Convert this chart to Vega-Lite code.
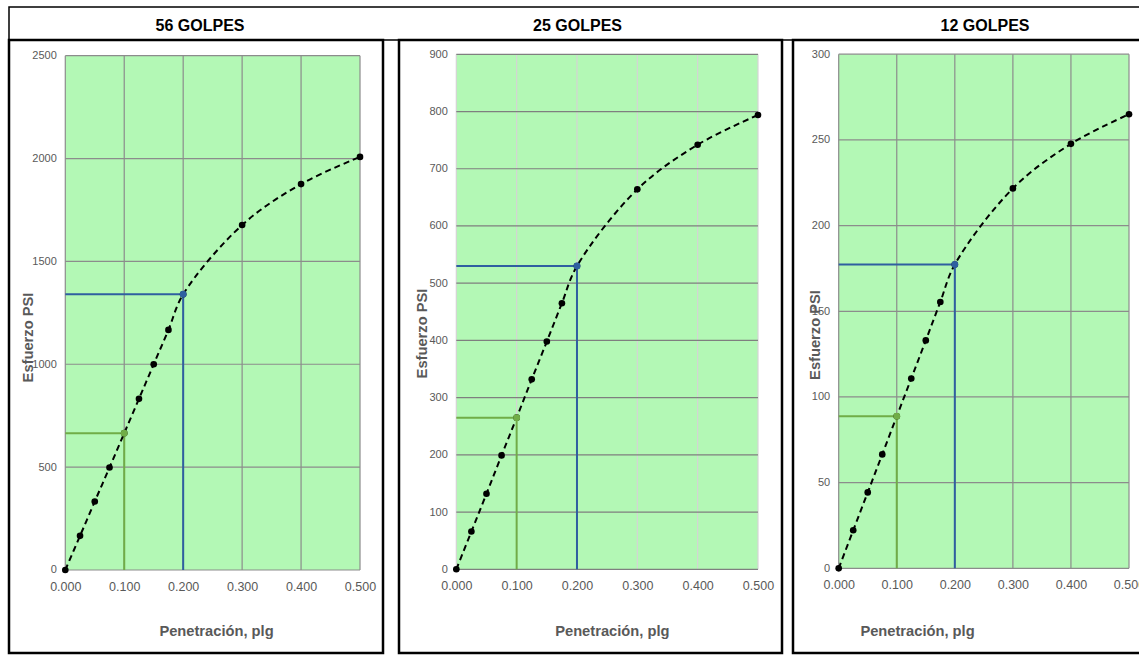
{
 "$schema": "https://vega.github.io/schema/vega-lite/v6.json",
 "padding": {"left": 7, "top": 6, "right": 0, "bottom": 0},
 "background": "white",
 "config": {
  "view": {"stroke": null},
  "axis": {"grid": false, "domain": false, "ticks": false, "tickSize": 0, "labelFont": "Liberation Sans", "labelColor": "#595959", "titleFont": "Liberation Sans", "titleFontSize": 14.7, "titleFontWeight": "bold", "titleColor": "#595959", "labelFlush": false, "labelOverlap": false},
  "axisX": {"labelFontSize": 12.5, "labelPadding": 10, "titleBaseline": "alphabetic", "titleAlign": "center", "titleAngle": 0},
  "axisY": {"labelFontSize": 11, "labelPadding": 9, "titleAngle": 270, "titleBaseline": "middle", "titleAlign": "center"},
  "title": {"font": "Liberation Sans", "fontSize": 16, "fontWeight": "bold", "color": "#000000", "anchor": "middle", "frame": "group", "baseline": "alphabetic", "offset": 6.5}
 },
 "datasets": {
  "curve": [
   {"panel": "56", "x": 0, "y": 0}, {"panel": "56", "x": 0.025, "y": 166}, {"panel": "56", "x": 0.05, "y": 333}, {"panel": "56", "x": 0.075, "y": 498}, {"panel": "56", "x": 0.1, "y": 665}, {"panel": "56", "x": 0.125, "y": 832}, {"panel": "56", "x": 0.15, "y": 1000}, {"panel": "56", "x": 0.175, "y": 1167}, {"panel": "56", "x": 0.2, "y": 1340}, {"panel": "56", "x": 0.3, "y": 1677}, {"panel": "56", "x": 0.4, "y": 1876}, {"panel": "56", "x": 0.5, "y": 2008},
   {"panel": "25", "x": 0, "y": 0}, {"panel": "25", "x": 0.025, "y": 66}, {"panel": "25", "x": 0.05, "y": 132}, {"panel": "25", "x": 0.075, "y": 199}, {"panel": "25", "x": 0.1, "y": 265}, {"panel": "25", "x": 0.125, "y": 332}, {"panel": "25", "x": 0.15, "y": 398}, {"panel": "25", "x": 0.175, "y": 465}, {"panel": "25", "x": 0.2, "y": 530}, {"panel": "25", "x": 0.3, "y": 664}, {"panel": "25", "x": 0.4, "y": 742}, {"panel": "25", "x": 0.5, "y": 794},
   {"panel": "12", "x": 0, "y": 0}, {"panel": "12", "x": 0.025, "y": 22.2}, {"panel": "12", "x": 0.05, "y": 44.3}, {"panel": "12", "x": 0.075, "y": 66.5}, {"panel": "12", "x": 0.1, "y": 88.7}, {"panel": "12", "x": 0.125, "y": 110.8}, {"panel": "12", "x": 0.15, "y": 133}, {"panel": "12", "x": 0.175, "y": 155.4}, {"panel": "12", "x": 0.2, "y": 177.3}, {"panel": "12", "x": 0.3, "y": 221.7}, {"panel": "12", "x": 0.4, "y": 247.7}, {"panel": "12", "x": 0.5, "y": 265}
  ],
  "refs": [
   {"panel": "56", "x0": 0, "y0": 0, "x": 0.1, "y": 665, "ref": "0.1"}, {"panel": "56", "x0": 0, "y0": 0, "x": 0.2, "y": 1340, "ref": "0.2"},
   {"panel": "25", "x0": 0, "y0": 0, "x": 0.1, "y": 265, "ref": "0.1"}, {"panel": "25", "x0": 0, "y0": 0, "x": 0.2, "y": 530, "ref": "0.2"},
   {"panel": "12", "x0": 0, "y0": 0, "x": 0.1, "y": 88.7, "ref": "0.1"}, {"panel": "12", "x0": 0, "y0": 0, "x": 0.2, "y": 177.3, "ref": "0.2"}
  ],
  "frame": [
   {"panel": "56", "xmin": 0, "xmax": 0.5, "ymin": 0, "ymax": 2500},
   {"panel": "25", "xmin": 0, "xmax": 0.5, "ymin": 0, "ymax": 900},
   {"panel": "12", "xmin": 0, "xmax": 0.5, "ymin": 0, "ymax": 300}
  ],
  "grid": [
   {"panel": "56", "axis": "x", "value": 0, "lo": 0, "hi": 2500}, {"panel": "56", "axis": "x", "value": 0.1, "lo": 0, "hi": 2500}, {"panel": "56", "axis": "x", "value": 0.2, "lo": 0, "hi": 2500}, {"panel": "56", "axis": "x", "value": 0.3, "lo": 0, "hi": 2500}, {"panel": "56", "axis": "x", "value": 0.4, "lo": 0, "hi": 2500}, {"panel": "56", "axis": "x", "value": 0.5, "lo": 0, "hi": 2500},
   {"panel": "56", "axis": "y", "value": 0, "lo": 0, "hi": 0.5}, {"panel": "56", "axis": "y", "value": 500, "lo": 0, "hi": 0.5}, {"panel": "56", "axis": "y", "value": 1000, "lo": 0, "hi": 0.5}, {"panel": "56", "axis": "y", "value": 1500, "lo": 0, "hi": 0.5}, {"panel": "56", "axis": "y", "value": 2000, "lo": 0, "hi": 0.5}, {"panel": "56", "axis": "y", "value": 2500, "lo": 0, "hi": 0.5},
   {"panel": "25", "axis": "x", "value": 0, "lo": 0, "hi": 900}, {"panel": "25", "axis": "x", "value": 0.1, "lo": 0, "hi": 900}, {"panel": "25", "axis": "x", "value": 0.2, "lo": 0, "hi": 900}, {"panel": "25", "axis": "x", "value": 0.3, "lo": 0, "hi": 900}, {"panel": "25", "axis": "x", "value": 0.4, "lo": 0, "hi": 900}, {"panel": "25", "axis": "x", "value": 0.5, "lo": 0, "hi": 900},
   {"panel": "25", "axis": "y", "value": 0, "lo": 0, "hi": 0.5}, {"panel": "25", "axis": "y", "value": 100, "lo": 0, "hi": 0.5}, {"panel": "25", "axis": "y", "value": 200, "lo": 0, "hi": 0.5}, {"panel": "25", "axis": "y", "value": 300, "lo": 0, "hi": 0.5}, {"panel": "25", "axis": "y", "value": 400, "lo": 0, "hi": 0.5}, {"panel": "25", "axis": "y", "value": 500, "lo": 0, "hi": 0.5}, {"panel": "25", "axis": "y", "value": 600, "lo": 0, "hi": 0.5}, {"panel": "25", "axis": "y", "value": 700, "lo": 0, "hi": 0.5}, {"panel": "25", "axis": "y", "value": 800, "lo": 0, "hi": 0.5}, {"panel": "25", "axis": "y", "value": 900, "lo": 0, "hi": 0.5},
   {"panel": "12", "axis": "x", "value": 0, "lo": 0, "hi": 300}, {"panel": "12", "axis": "x", "value": 0.1, "lo": 0, "hi": 300}, {"panel": "12", "axis": "x", "value": 0.2, "lo": 0, "hi": 300}, {"panel": "12", "axis": "x", "value": 0.3, "lo": 0, "hi": 300}, {"panel": "12", "axis": "x", "value": 0.4, "lo": 0, "hi": 300}, {"panel": "12", "axis": "x", "value": 0.5, "lo": 0, "hi": 300},
   {"panel": "12", "axis": "y", "value": 0, "lo": 0, "hi": 0.5}, {"panel": "12", "axis": "y", "value": 50, "lo": 0, "hi": 0.5}, {"panel": "12", "axis": "y", "value": 100, "lo": 0, "hi": 0.5}, {"panel": "12", "axis": "y", "value": 150, "lo": 0, "hi": 0.5}, {"panel": "12", "axis": "y", "value": 200, "lo": 0, "hi": 0.5}, {"panel": "12", "axis": "y", "value": 250, "lo": 0, "hi": 0.5}, {"panel": "12", "axis": "y", "value": 300, "lo": 0, "hi": 0.5}
  ]
 },
 "vconcat": [
  {"width": 1134, "height": 33, "view": {"stroke": "#000000", "strokeWidth": 1.5}, "data": {"values": [{"a": 1}]}, "mark": {"type": "point", "opacity": 0}, "encoding": {}},
  {
   "spacing": 16, "bounds": "flush",
   "hconcat": [
    {
     "width": 374, "height": 613,
     "view": {"stroke": "#000000", "strokeWidth": 2.5},
     "title": {"text": "56 GOLPES", "dx": 4},
     "layer": [
      {"data": {"name": "frame"}, "transform": [{"filter": "datum.panel == '56'"}], "mark": {"type": "rect", "color": "#b3f8b5"},
       "encoding": {
        "x": {"field": "xmin", "type": "quantitative", "scale": {"domain": [-0.0955, 0.539], "nice": false, "zero": false}, "axis": {"values": [0, 0.1, 0.2, 0.3, 0.4, 0.5], "format": ".3f", "offset": -83, "title": "Penetración, plg", "titleX": 207, "titleY": 65}},
        "x2": {"field": "xmax"},
        "y": {"field": "ymin", "type": "quantitative", "scale": {"domain": [-403.5, 2576.3], "nice": false, "zero": false}, "axis": {"values": [0, 500, 1000, 1500, 2000, 2500], "format": "d", "offset": -56.3, "title": "Esfuerzo PSI", "titleX": -37.3, "titleY": 297}},
        "y2": {"field": "ymax"}}},
      {"data": {"name": "grid"}, "transform": [{"filter": "datum.panel == '56' && datum.axis == 'x'"}], "mark": {"type": "rule", "color": "#8c8c8c", "strokeWidth": 1.2},
       "encoding": {"x": {"field": "value", "type": "quantitative"}, "y": {"field": "lo", "type": "quantitative"}, "y2": {"field": "hi"}}},
      {"data": {"name": "grid"}, "transform": [{"filter": "datum.panel == '56' && datum.axis == 'y'"}], "mark": {"type": "rule", "color": "#8c8c8c", "strokeWidth": 1.2},
       "encoding": {"y": {"field": "value", "type": "quantitative"}, "x": {"field": "lo", "type": "quantitative"}, "x2": {"field": "hi"}}},
      {"data": {"name": "refs"}, "transform": [{"filter": "datum.panel == '56'"}], "mark": {"type": "rule", "strokeWidth": 2},
       "encoding": {"x": {"field": "x0", "type": "quantitative"}, "x2": {"field": "x"}, "y": {"field": "y", "type": "quantitative"},
        "color": {"field": "ref", "type": "nominal", "scale": {"domain": ["0.1", "0.2"], "range": ["#70ad47", "#2f5fa0"]}, "legend": null}}},
      {"data": {"name": "refs"}, "transform": [{"filter": "datum.panel == '56'"}], "mark": {"type": "rule", "strokeWidth": 2},
       "encoding": {"x": {"field": "x", "type": "quantitative"}, "y": {"field": "y0", "type": "quantitative"}, "y2": {"field": "y"},
        "color": {"field": "ref", "type": "nominal", "legend": null}}},
      {"data": {"name": "curve"}, "transform": [{"filter": "datum.panel == '56'"}], "mark": {"type": "line", "color": "#000000", "strokeWidth": 2, "strokeDash": [6, 4], "interpolate": "catmull-rom"},
       "encoding": {"x": {"field": "x", "type": "quantitative"}, "y": {"field": "y", "type": "quantitative"}}},
      {"data": {"name": "curve"}, "transform": [{"filter": "datum.panel == '56'"}], "mark": {"type": "point", "filled": true, "color": "#000000", "size": 44, "opacity": 1},
       "encoding": {"x": {"field": "x", "type": "quantitative"}, "y": {"field": "y", "type": "quantitative"}}},
      {"data": {"name": "refs"}, "transform": [{"filter": "datum.panel == '56'"}], "mark": {"type": "point", "filled": true, "size": 48, "opacity": 1},
       "encoding": {"x": {"field": "x", "type": "quantitative"}, "y": {"field": "y", "type": "quantitative"},
        "color": {"field": "ref", "type": "nominal", "legend": null}}}
     ]
    },
    {
     "spacing": 11, "bounds": "flush",
     "hconcat": [
      {
       "width": 383, "height": 613,
       "view": {"stroke": "#000000", "strokeWidth": 2.5},
       "title": {"text": "25 GOLPES", "dx": -13},
       "layer": [
        {"data": {"name": "frame"}, "transform": [{"filter": "datum.panel == '25'"}], "mark": {"type": "rect", "color": "#b3f8b5"},
         "encoding": {
          "x": {"field": "xmin", "type": "quantitative", "scale": {"domain": [-0.095, 0.5398], "nice": false, "zero": false}, "axis": {"values": [0, 0.1, 0.2, 0.3, 0.4, 0.5], "format": ".3f", "offset": -83.7, "title": "Penetración, plg", "titleX": 212.8, "titleY": 65.7}},
          "x2": {"field": "xmax"},
          "y": {"field": "ymin", "type": "quantitative", "scale": {"domain": [-146.3, 925], "nice": false, "zero": false}, "axis": {"values": [0, 100, 200, 300, 400, 500, 600, 700, 800, 900], "format": "d", "offset": -57.3, "title": "Esfuerzo PSI", "titleX": -34.3, "titleY": 293}},
          "y2": {"field": "ymax"}}},
        {"data": {"name": "grid"}, "transform": [{"filter": "datum.panel == '25' && datum.axis == 'x'"}], "mark": {"type": "rule", "color": "#d4d4d4", "strokeWidth": 1.2},
         "encoding": {"x": {"field": "value", "type": "quantitative"}, "y": {"field": "lo", "type": "quantitative"}, "y2": {"field": "hi"}}},
        {"data": {"name": "grid"}, "transform": [{"filter": "datum.panel == '25' && datum.axis == 'y'"}], "mark": {"type": "rule", "color": "#7f7f7f", "strokeWidth": 1.2},
         "encoding": {"y": {"field": "value", "type": "quantitative"}, "x": {"field": "lo", "type": "quantitative"}, "x2": {"field": "hi"}}},
        {"data": {"name": "refs"}, "transform": [{"filter": "datum.panel == '25'"}], "mark": {"type": "rule", "strokeWidth": 2},
         "encoding": {"x": {"field": "x0", "type": "quantitative"}, "x2": {"field": "x"}, "y": {"field": "y", "type": "quantitative"},
          "color": {"field": "ref", "type": "nominal", "legend": null}}},
        {"data": {"name": "refs"}, "transform": [{"filter": "datum.panel == '25'"}], "mark": {"type": "rule", "strokeWidth": 2},
         "encoding": {"x": {"field": "x", "type": "quantitative"}, "y": {"field": "y0", "type": "quantitative"}, "y2": {"field": "y"},
          "color": {"field": "ref", "type": "nominal", "legend": null}}},
        {"data": {"name": "curve"}, "transform": [{"filter": "datum.panel == '25'"}], "mark": {"type": "line", "color": "#000000", "strokeWidth": 2, "strokeDash": [6, 4], "interpolate": "catmull-rom"},
         "encoding": {"x": {"field": "x", "type": "quantitative"}, "y": {"field": "y", "type": "quantitative"}}},
        {"data": {"name": "curve"}, "transform": [{"filter": "datum.panel == '25'"}], "mark": {"type": "point", "filled": true, "color": "#000000", "size": 44, "opacity": 1},
         "encoding": {"x": {"field": "x", "type": "quantitative"}, "y": {"field": "y", "type": "quantitative"}}},
        {"data": {"name": "refs"}, "transform": [{"filter": "datum.panel == '25'"}], "mark": {"type": "point", "filled": true, "size": 48, "opacity": 1},
         "encoding": {"x": {"field": "x", "type": "quantitative"}, "y": {"field": "y", "type": "quantitative"},
          "color": {"field": "ref", "type": "nominal", "legend": null}}}
       ]
      },
      {
       "width": 350, "height": 613,
       "view": {"stroke": "#000000", "strokeWidth": 2.5},
       "title": {"text": "12 GOLPES", "dx": 17},
       "layer": [
        {"data": {"name": "frame"}, "transform": [{"filter": "datum.panel == '12'"}], "mark": {"type": "rect", "color": "#b3f8b5"},
         "encoding": {
          "x": {"field": "xmin", "type": "quantitative", "scale": {"domain": [-0.0787, 0.5241], "nice": false, "zero": false}, "axis": {"values": [0, 0.1, 0.2, 0.3, 0.4, 0.5], "format": ".3f", "offset": -84.7, "title": "Penetración, plg", "titleX": 124, "titleY": 66.7}},
          "x2": {"field": "xmax"},
          "y": {"field": "ymin", "type": "quantitative", "scale": {"domain": [-49.4, 308.3], "nice": false, "zero": false}, "axis": {"values": [0, 50, 100, 150, 200, 250, 300], "format": "d", "offset": -45.7, "title": "Esfuerzo PSI", "titleX": -23.7, "titleY": 294.5}},
          "y2": {"field": "ymax"}}},
        {"data": {"name": "grid"}, "transform": [{"filter": "datum.panel == '12' && datum.axis == 'x'"}], "mark": {"type": "rule", "color": "#8c8c8c", "strokeWidth": 1.2},
         "encoding": {"x": {"field": "value", "type": "quantitative"}, "y": {"field": "lo", "type": "quantitative"}, "y2": {"field": "hi"}}},
        {"data": {"name": "grid"}, "transform": [{"filter": "datum.panel == '12' && datum.axis == 'y'"}], "mark": {"type": "rule", "color": "#8c8c8c", "strokeWidth": 1.2},
         "encoding": {"y": {"field": "value", "type": "quantitative"}, "x": {"field": "lo", "type": "quantitative"}, "x2": {"field": "hi"}}},
        {"data": {"name": "refs"}, "transform": [{"filter": "datum.panel == '12'"}], "mark": {"type": "rule", "strokeWidth": 2},
         "encoding": {"x": {"field": "x0", "type": "quantitative"}, "x2": {"field": "x"}, "y": {"field": "y", "type": "quantitative"},
          "color": {"field": "ref", "type": "nominal", "legend": null}}},
        {"data": {"name": "refs"}, "transform": [{"filter": "datum.panel == '12'"}], "mark": {"type": "rule", "strokeWidth": 2},
         "encoding": {"x": {"field": "x", "type": "quantitative"}, "y": {"field": "y0", "type": "quantitative"}, "y2": {"field": "y"},
          "color": {"field": "ref", "type": "nominal", "legend": null}}},
        {"data": {"name": "curve"}, "transform": [{"filter": "datum.panel == '12'"}], "mark": {"type": "line", "color": "#000000", "strokeWidth": 2, "strokeDash": [6, 4], "interpolate": "catmull-rom"},
         "encoding": {"x": {"field": "x", "type": "quantitative"}, "y": {"field": "y", "type": "quantitative"}}},
        {"data": {"name": "curve"}, "transform": [{"filter": "datum.panel == '12'"}], "mark": {"type": "point", "filled": true, "color": "#000000", "size": 44, "opacity": 1},
         "encoding": {"x": {"field": "x", "type": "quantitative"}, "y": {"field": "y", "type": "quantitative"}}},
        {"data": {"name": "refs"}, "transform": [{"filter": "datum.panel == '12'"}], "mark": {"type": "point", "filled": true, "size": 48, "opacity": 1},
         "encoding": {"x": {"field": "x", "type": "quantitative"}, "y": {"field": "y", "type": "quantitative"},
          "color": {"field": "ref", "type": "nominal", "legend": null}}}
       ]
      }
     ]
    }
   ]
  }
 ],
 "spacing": 0,
 "bounds": "flush"
}
